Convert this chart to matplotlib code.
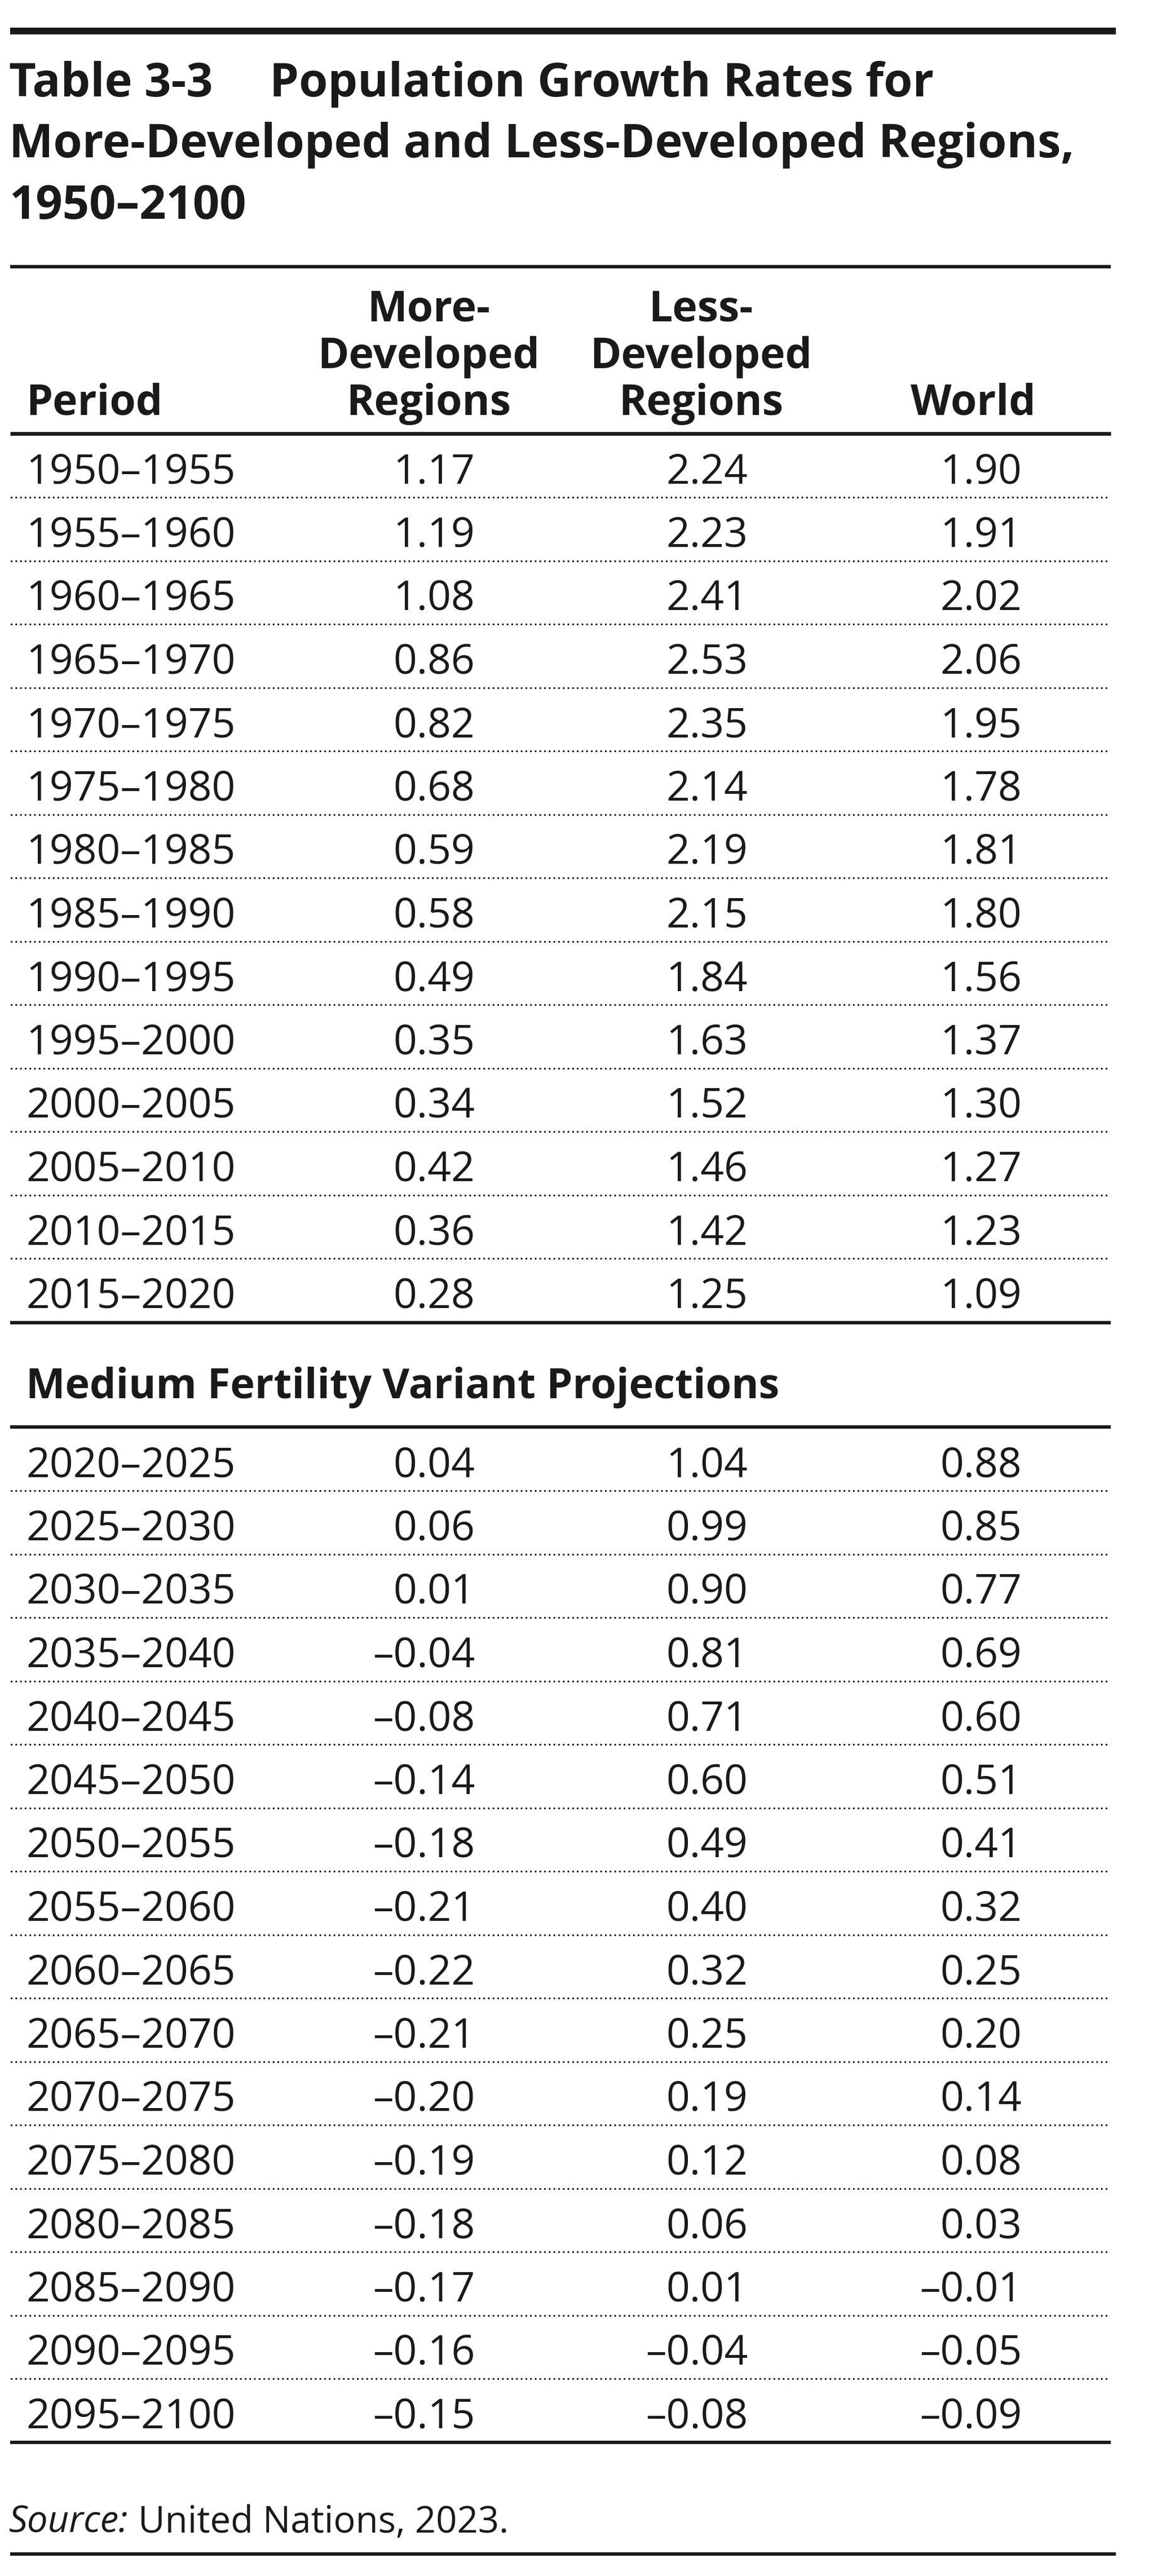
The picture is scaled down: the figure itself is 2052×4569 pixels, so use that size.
import matplotlib
matplotlib.use("Agg")
import matplotlib.pyplot as plt

# ---------------------------------------------------------------------------
# Data
# ---------------------------------------------------------------------------

title_lines = ["Table 3-3", "Population Growth Rates for",
               "More-Developed and Less-Developed Regions,", "1950\u20132100"]
col_headers = [["More-", "Developed", "Regions"],
               ["Less-", "Developed", "Regions"],
               ["World"]]
period_header = "Period"

periods_hist = ["1950\u20131955", "1955\u20131960", "1960\u20131965", "1965\u20131970",
                "1970\u20131975", "1975\u20131980", "1980\u20131985", "1985\u20131990",
                "1990\u20131995", "1995\u20132000", "2000\u20132005", "2005\u20132010",
                "2010\u20132015", "2015\u20132020"]
more_hist = [1.17, 1.19, 1.08, 0.86, 0.82, 0.68, 0.59, 0.58, 0.49, 0.35, 0.34, 0.42, 0.36, 0.28]
less_hist = [2.24, 2.23, 2.41, 2.53, 2.35, 2.14, 2.19, 2.15, 1.84, 1.63, 1.52, 1.46, 1.42, 1.25]
world_hist = [1.90, 1.91, 2.02, 2.06, 1.95, 1.78, 1.81, 1.80, 1.56, 1.37, 1.30, 1.27, 1.23, 1.09]

section_title = "Medium Fertility Variant Projections"

periods_proj = ["2020\u20132025", "2025\u20132030", "2030\u20132035", "2035\u20132040",
                "2040\u20132045", "2045\u20132050", "2050\u20132055", "2055\u20132060",
                "2060\u20132065", "2065\u20132070", "2070\u20132075", "2075\u20132080",
                "2080\u20132085", "2085\u20132090", "2090\u20132095", "2095\u20132100"]
more_proj = [0.04, 0.06, 0.01, -0.04, -0.08, -0.14, -0.18, -0.21, -0.22, -0.21,
             -0.20, -0.19, -0.18, -0.17, -0.16, -0.15]
less_proj = [1.04, 0.99, 0.90, 0.81, 0.71, 0.60, 0.49, 0.40, 0.32, 0.25,
             0.19, 0.12, 0.06, 0.01, -0.04, -0.08]
world_proj = [0.88, 0.85, 0.77, 0.69, 0.60, 0.51, 0.41, 0.32, 0.25, 0.20,
              0.14, 0.08, 0.03, -0.01, -0.05, -0.09]

source_label = "Source:"
source_text = " United Nations, 2023."

# ---------------------------------------------------------------------------
# Layout (pixel units, y grows downward)
# ---------------------------------------------------------------------------

W, H = 2052, 4569
INK = "#1a1a1a"
FONT = ["Open Sans", "DejaVu Sans"]

X_LEFT, X_RIGHT = 18, 1970
COL_RIGHT = [842, 1326, 1812]
COL_CENTER = [760, 1243, 1726]
ROW_STEP = 112.5

fig = plt.figure(figsize=(W / 100, H / 100), dpi=100)
ax = fig.add_axes([0, 0, 1, 1])
ax.set_xlim(0, W)
ax.set_ylim(H, 0)
ax.axis("off")
renderer = fig.canvas.get_renderer()


def text_width(s, size, **kw):
    t = ax.text(0, 0, s, fontsize=size, family=FONT, **kw)
    w = t.get_window_extent(renderer).width
    t.remove()
    return w


def fit_size(s, target, **kw):
    return 50 * target / text_width(s, 50, **kw)


def put(x, y, s, size, **kw):
    ax.text(x, y, s, fontsize=size, family=FONT, color=INK, va="baseline", **kw)


def rule(y, lw, x0=X_LEFT, x1=X_RIGHT):
    ax.plot([x0, x1], [y, y], color=INK, lw=lw, solid_capstyle="butt")


def dots(y):
    ax.plot([X_LEFT + 2, X_RIGHT], [y, y], color=INK, lw=2.5,
            linestyle=(0, (0.01, 2.38)), dash_capstyle="round")


def fmt(v):
    return f"{v:.2f}".replace("-", "\u2013")


title_fs = fit_size(title_lines[2], 1890, weight="bold")
head_fs = fit_size("Developed", 394, weight="bold")
sect_fs = fit_size(section_title, 1338, weight="bold")
body_fs = fit_size("1950\u20131955", 372)

# Title block
rule(55, 8.6, X_LEFT, 1979)
put(16, 171, title_lines[0], title_fs, weight="bold")
put(478, 171, title_lines[1], title_fs, weight="bold")
put(16, 279, title_lines[2], title_fs, weight="bold")
put(16, 388, title_lines[3], title_fs, weight="bold")
rule(473, 4.3)

# Column headers (bottom-aligned)
head_base = [570, 653, 736]
put(46, head_base[-1], period_header, head_fs, weight="bold")
for cx, lines in zip(COL_CENTER, col_headers):
    for y, s in zip(head_base[-len(lines):], lines):
        put(cx, y, s, head_fs, weight="bold", ha="center")
rule(769, 4.8)


def draw_rows(first_base, periods, cols):
    n = len(periods)
    for i in range(n):
        y = first_base + i * ROW_STEP
        put(46, y, periods[i], body_fs)
        for xr, vals in zip(COL_RIGHT, cols):
            put(xr, y, fmt(vals[i]), body_fs, ha="right")
        if i < n - 1:
            dots(y + 25)
    return first_base + (n - 1) * ROW_STEP


last = draw_rows(857, periods_hist, [more_hist, less_hist, world_hist])
rule(last + 26, 4.3)

put(46, 2480, section_title, sect_fs, weight="bold")
rule(2531, 4.3)

last = draw_rows(2619, periods_proj, [more_proj, less_proj, world_proj])
rule(last + 25, 4.3)

# Source note
src_fs = fit_size(source_label + source_text, 900)
w_lab = text_width(source_label, src_fs, style="italic")
put(16, 4492, source_label, src_fs, style="italic")
put(16 + w_lab, 4492, source_text, src_fs)
rule(4530, 4.3, X_LEFT, 1979)

fig.savefig("out.png", dpi=100, facecolor="white")
